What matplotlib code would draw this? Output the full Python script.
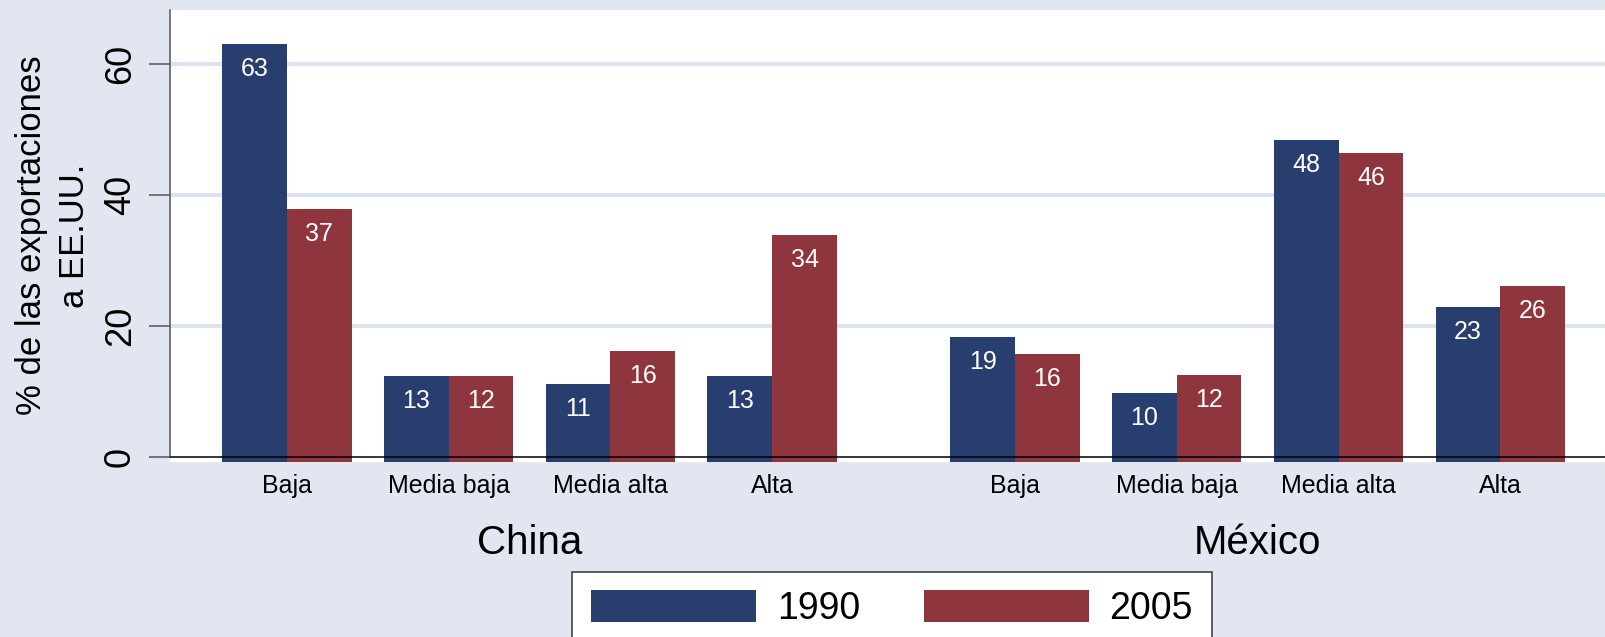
import numpy as np
import matplotlib
matplotlib.use("Agg")
from matplotlib import pyplot as plt
from matplotlib.patches import Patch

plt.rcParams['font.family'] = ['Liberation Sans', 'DejaVu Sans']

# data
categorias = ["Baja", "Media baja", "Media alta", "Alta"]
paises = ["China", "México"]
anios = ["1990", "2005"]

china_1990 = [63.1, 12.4, 11.1, 12.4]
china_2005 = [37.8, 12.4, 16.2, 33.8]
mexico_1990 = [18.3, 9.8, 48.3, 22.8]
mexico_2005 = [15.7, 12.5, 46.4, 26.0]

# value labels as printed on the bars
etiq_china_1990 = [63, 13, 11, 13]
etiq_china_2005 = [37, 12, 16, 34]
etiq_mexico_1990 = [19, 10, 48, 23]
etiq_mexico_2005 = [16, 12, 46, 26]

azul = "#283E6E"
rojo = "#8F353D"
fondo = "#E1E6F0"
rejilla = "#DCE2EE"

W, H = 1605, 637
fig = plt.figure(figsize=(W / 100, H / 100), dpi=100, facecolor=fondo)
ax = fig.add_axes([170 / W, 1 - 461.7 / H, (W - 170) / W, (461.7 - 9.5) / H])
ax.set_facecolor("white")

ymin, ymax = -0.76, 68.3
ax.set_ylim(ymin, ymax)
ax.set_xlim(-0.722, 8.147)

grupos = [
    (0.0, china_1990, china_2005, etiq_china_1990, etiq_china_2005),
    (4.5, mexico_1990, mexico_2005, etiq_mexico_1990, etiq_mexico_2005),
]
ancho = 0.4
xticks, xlabels = [], []
for inicio, v90, v05, e90, e05 in grupos:
    x = inicio + np.arange(len(categorias))
    for vals, etiq, col, off in [(v90, e90, azul, -ancho / 2), (v05, e05, rojo, ancho / 2)]:
        vals = np.array(vals)
        ax.bar(x + off, vals - ymin, bottom=ymin, width=ancho, color=col,
               edgecolor="none", zorder=2)
        for xi, v, t in zip(x + off, vals, etiq):
            ax.annotate(str(t), (xi, v), xytext=(0, -25), textcoords="offset pixels",
                        ha="center", va="center", color="white", fontsize=18, zorder=4)
    xticks += list(x)
    xlabels += categorias

ax.set_xticks(xticks)
ax.set_xticklabels(xlabels, fontsize=18)
ax.tick_params(axis="x", length=0, pad=9)

for i, nombre in enumerate(paises):
    xc = grupos[i][0] + (len(categorias) - 1) / 2
    ax.text(xc, -0.18, nombre, transform=ax.get_xaxis_transform(),
            ha="center", va="center", fontsize=29)

# y axis
ax.set_yticks([0, 20, 40, 60])
ax.tick_params(axis="y", length=15, width=1.1, color="#555555", pad=8,
               labelsize=26, labelrotation=90)
for lab in ax.get_yticklabels():
    lab.set_va("center")
ax.set_ylabel("% de las exportaciones\na EE.UU.", fontsize=25, labelpad=9,
              linespacing=1.35)

for y in [20, 40, 60]:
    ax.axhline(y, color=rejilla, lw=2.9, zorder=1)
ax.axhline(0, color="black", lw=1.1, zorder=3)

for s in ["top", "right", "bottom"]:
    ax.spines[s].set_visible(False)
ax.spines["left"].set_color("#555555")
ax.spines["left"].set_linewidth(1.1)
ax.spines["left"].set_bounds(0, ymax)

# legend
handles = [Patch(facecolor=azul, edgecolor="none"), Patch(facecolor=rojo, edgecolor="none")]
leg = fig.legend(handles, anios, loc="upper center", bbox_to_anchor=(892 / W, 1 - 571.7 / H),
                 ncol=2, fontsize=27, frameon=True, fancybox=False, framealpha=1,
                 handlelength=4.4, handleheight=0.9, handletextpad=0.55,
                 columnspacing=1.7, borderpad=0.5, borderaxespad=0)
leg.get_frame().set_edgecolor("#333333")
leg.get_frame().set_linewidth(1.1)
leg.get_frame().set_facecolor("white")

fig.savefig("out.png", dpi=100, facecolor=fondo)
